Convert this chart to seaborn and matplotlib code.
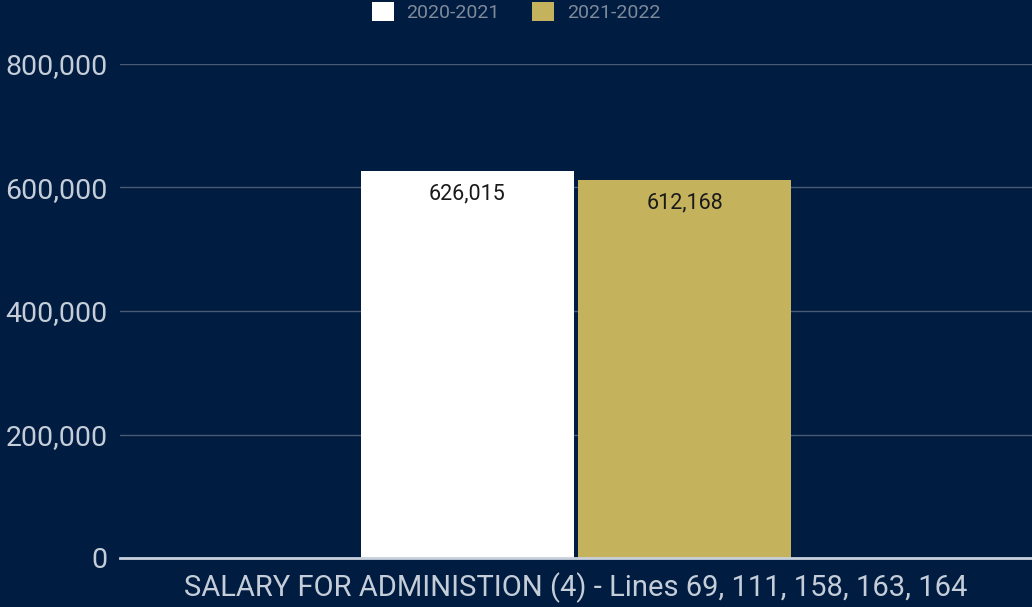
import matplotlib
matplotlib.use('Agg')
import matplotlib.pyplot as plt
from matplotlib.ticker import FuncFormatter
import seaborn as sns
import pandas as pd

# chart data
categories = ['SALARY FOR ADMINISTION (4) - Lines 69, 111, 158, 163, 164']
years = ['2020-2021', '2021-2022']
values = [626015, 612168]
yticks = [0, 200000, 400000, 600000, 800000]

bg = '#001c40'
palette = {'2020-2021': '#ffffff', '2021-2022': '#c4b35c'}

df = pd.DataFrame({'category': categories * len(years),
                   'year': years,
                   'value': values})

sns.set_theme(style='dark')
plt.rcParams['font.family'] = ['Roboto', 'DejaVu Sans']

fig = plt.figure(figsize=(10.32, 6.07), dpi=100, facecolor=bg)
ax = fig.add_axes([120/1032, 49/607, 1 - 120/1032, (558-64)/607])
ax.set_facecolor(bg)

sns.barplot(data=df, x='category', y='value', hue='year', palette=palette,
            width=0.476, gap=0.02, saturation=1, ax=ax, legend=False,
            edgecolor='none', linewidth=0)

ax.set_xlim(-0.5, 0.5)
ax.set_ylim(0, 800000)
ax.set_yticks(yticks)
ax.yaxis.set_major_formatter(FuncFormatter(lambda v, p: f'{v:,.0f}'))
ax.grid(axis='y', color='#4a5b78', linewidth=1)
ax.grid(axis='x', visible=False)
ax.set_axisbelow(True)
for s in ['top', 'right', 'left']:
    ax.spines[s].set_visible(False)
ax.spines['bottom'].set_color('#c8d0dc')
ax.spines['bottom'].set_linewidth(2)
ax.spines['bottom'].set_zorder(5)
ax.tick_params(axis='y', length=0, pad=9, labelsize=20.5, labelcolor='#c5cdd9')
ax.tick_params(axis='x', length=0, pad=10, labelsize=21, labelcolor='#c5cdd9')
ax.set_xlabel('')
ax.set_ylabel('')

for p in ax.patches:
    h = p.get_height()
    ax.annotate(f'{h:,.0f}', (p.get_x() + p.get_width()/2, h),
                xytext=(0, -23), textcoords='offset pixels',
                ha='center', va='center', fontsize=15.5, color='#1a1a1a')

handles = [plt.Rectangle((0, 0), 1, 1, facecolor=palette[y], edgecolor='none') for y in years]
fig.legend(handles, years, loc='center', bbox_to_anchor=(0.5, 1 - 12/607), ncol=2,
           frameon=False, fontsize=14, labelcolor='#7f8a9a', handlelength=1.13,
           handleheight=1.13, handletextpad=0.67, columnspacing=1.65)

fig.savefig('out.png', dpi=100, facecolor=bg)
